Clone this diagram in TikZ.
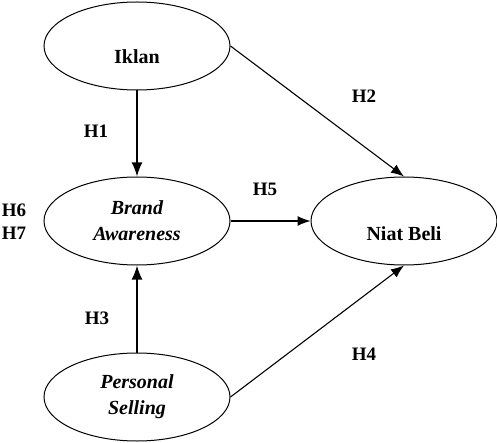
\documentclass[tikz,border=0pt]{standalone}
\usepackage{fontspec}
\setmainfont{Liberation Serif}
\usetikzlibrary{shapes.geometric,arrows.meta}
\begin{document}
\begin{tikzpicture}[x=1pt,y=-1pt,
  construct/.style={draw,line width=1pt,ellipse,minimum width=186pt,minimum height=88pt,inner sep=0pt},
  lbl/.style={font=\fontsize{20}{26}\selectfont\bfseries,align=center,inner sep=0pt},
  hyp/.style={font=\fontsize{19}{22}\selectfont\bfseries,inner sep=0pt},
  arr/.style={line width=1.1pt,-{Latex[length=13pt,width=10pt]}},
  varr/.style={line width=1.8pt,-{Latex[length=14pt,width=11pt]}}]
\useasboundingbox (0,0) rectangle (497,443);
\node[construct] (iklan) at (137,46) {};
\node[construct] (brand) at (137,221) {};
\node[construct] (personal) at (137,397) {};
\node[construct] (niat) at (404,221) {};
\node[lbl] (tiklan) at (137,57) {Iklan};
\node[lbl] (tbrand) at (137,221) {\itshape Brand\\\itshape Awareness};
\node[lbl] (tpersonal) at (137,397) {\itshape Personal\\\itshape Selling};
\node[lbl] (tniat) at (404,234) {Niat Beli};
\draw[varr] (iklan.south) -- (brand.north);
\draw[varr] (personal.north) -- (brand.south);
\draw[arr] (iklan.east) -- (niat.north);
\draw[arr] (brand.east) -- (niat.west);
\draw[arr] (personal.east) -- (niat.south);
\node[hyp] (h1) at (96,131) {H1};
\node[hyp] (h2) at (364,96) {H2};
\node[hyp] (h3) at (97,318) {H3};
\node[hyp] (h4) at (364,354) {H4};
\node[hyp] (h5) at (265,189) {H5};
\node[hyp] (h6) at (14,210) {H6};
\node[hyp] (h7) at (14,233) {H7};
\end{tikzpicture}
\end{document}
